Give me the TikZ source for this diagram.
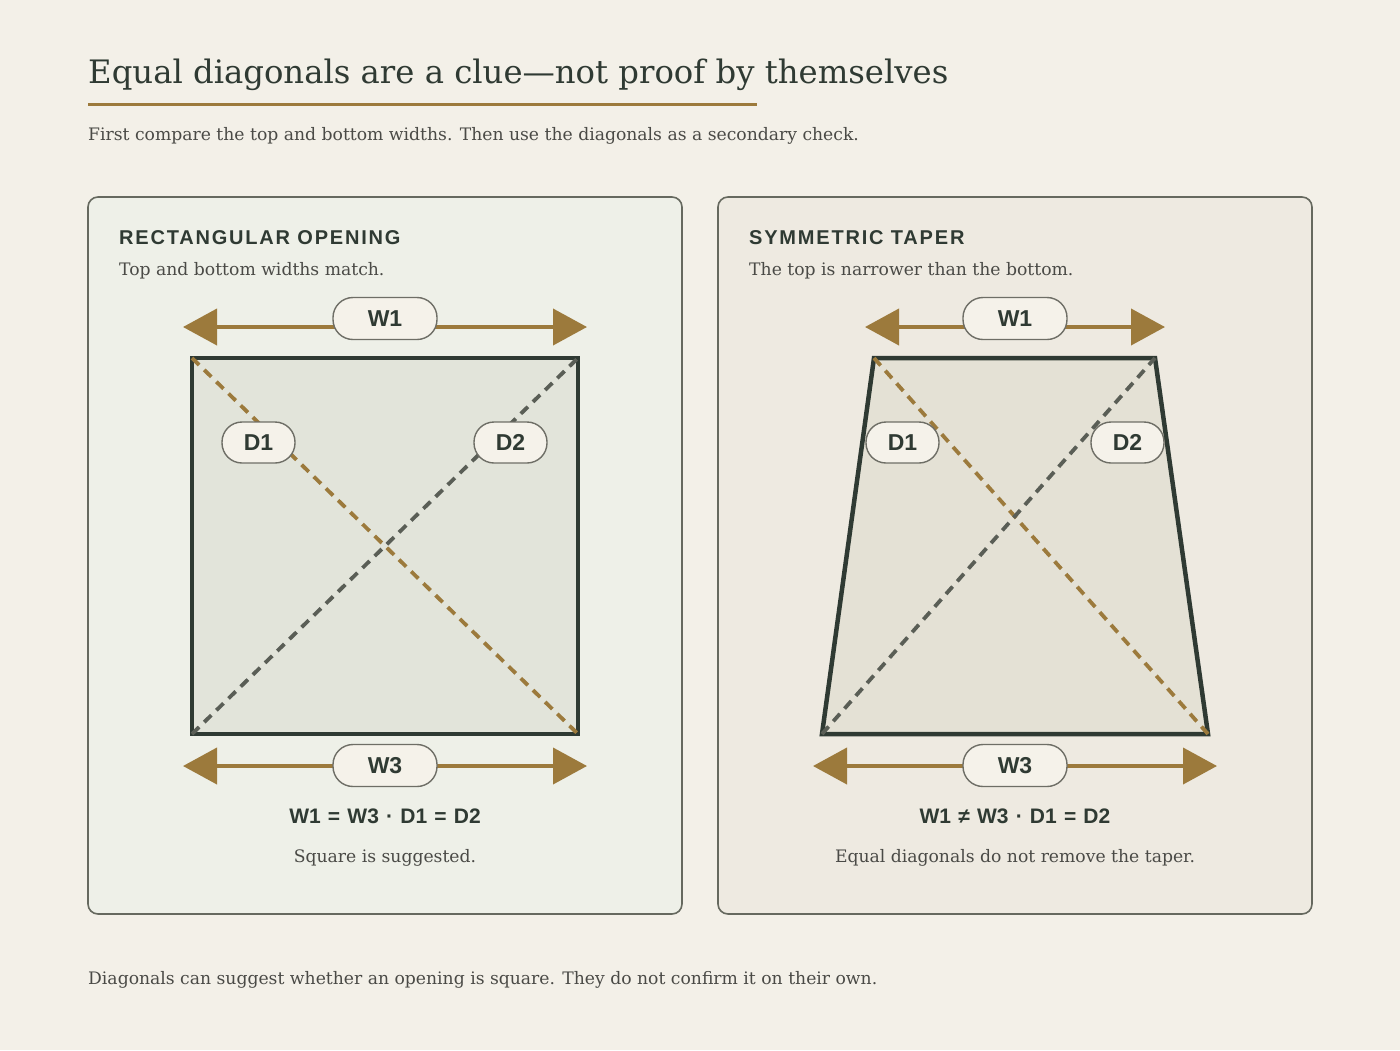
\documentclass[tikz,border=0pt]{standalone}
\usepackage{fontspec}
\setmainfont{DejaVu Serif}
\newfontfamily\headsans{Liberation Sans}
\newfontfamily\headsanssp[LetterSpace=9]{Liberation Sans}
\usetikzlibrary{arrows.meta}
\definecolor{bgc}{HTML}{F3F0E8}
\definecolor{ink}{HTML}{2F3A33}
\definecolor{gold}{HTML}{9C7A3C}
\definecolor{grayd}{HTML}{5A5E56}
\definecolor{panelL}{HTML}{EEF0E8}
\definecolor{panelR}{HTML}{EEEAE1}
\definecolor{shapeL}{HTML}{E2E4DA}
\definecolor{shapeR}{HTML}{E4E1D5}
\definecolor{pillf}{HTML}{F5F2EA}
\definecolor{pillb}{HTML}{6E6E66}
\definecolor{bodyt}{HTML}{4A4A46}
\definecolor{panelb}{HTML}{66695F}
\newcommand\fgap{\hspace{7.2pt}}
\tikzset{
  panel/.style={draw=panelb, line width=1.6pt, rounded corners=10pt},
  shapeline/.style={draw=ink, line width=4.5pt, line join=miter},
  diagA/.style={draw=gold, line width=3.8pt, dash pattern=on 10pt off 7pt},
  diagB/.style={draw=grayd, line width=3.8pt, dash pattern=on 10pt off 7pt},
  dimarrow/.style={draw=gold, line width=4pt, {Triangle[length=34pt,width=36pt]}-{Triangle[length=34pt,width=36pt]}},
  pill/.style={draw=pillb, fill=pillf, line width=1.4pt, rounded corners=20pt, inner sep=0pt, text=ink, font=\headsans\bfseries\fontsize{23}{23}\selectfont},
  wpill/.style={pill, minimum width=104pt, minimum height=42pt},
  dpill/.style={pill, minimum width=73pt, minimum height=41pt},
  heading/.style={anchor=base west, inner sep=0pt, text=ink, font=\headsanssp\bfseries\fontsize{20}{20}\selectfont},
  bodytext/.style={inner sep=0pt, text=bodyt, font=\fontsize{17.2}{20}\selectfont},
  formula/.style={anchor=base, inner sep=0pt, text=ink, font=\headsans\bfseries\fontsize{21}{21}\selectfont},
}
\begin{document}
\begin{tikzpicture}[x=1pt,y=-1pt]
\useasboundingbox (0,0) rectangle (1400,1050);
\fill[bgc] (0,0) rectangle (1400,1050);

% title
\node[anchor=base west, inner sep=0pt, text=ink, font=\fontsize{32.3}{40}\selectfont] (title) at (88,83) {Equal diagonals are a clue—not proof by themselves};
\coordinate (ulA) at (88,104);
\coordinate (ulB) at (757,104);
\draw[gold, line width=3pt] (ulA) -- (ulB);
\node[bodytext, anchor=base west] (sub) at (88,140) {First compare the top and bottom widths. Then use the diagonals as a secondary check.};

% panels
\draw[panel, fill=panelL] (88,197) rectangle (682,914);
\draw[panel, fill=panelR] (718,197) rectangle (1312,914);

% ---------- left panel ----------
\node[heading] (hL) at (119,244) {RECTANGULAR OPENING};
\node[bodytext, anchor=base west] (sL) at (119,275) {Top and bottom widths match.};

\coordinate (LTL) at (192,358);
\coordinate (LTR) at (578,358);
\coordinate (LBR) at (578,734);
\coordinate (LBL) at (192,734);
\fill[shapeL] (LTL) -- (LTR) -- (LBR) -- (LBL) -- cycle;
\draw[shapeline] (LTL) -- (LTR) -- (LBR) -- (LBL) -- cycle;
\draw[diagA] (LTL) -- (LBR);
\draw[diagB] (LBL) -- (LTR);

\coordinate (LW1a) at (183,327);
\coordinate (LW1b) at (587,327);
\draw[dimarrow] (LW1a) -- (LW1b);
\node[wpill] (LW1) at (385,318.5) {W1};

\node[dpill] (LD1) at (258.5,442.5) {D1};
\node[dpill] (LD2) at (510.5,442.5) {D2};

\coordinate (LW3a) at (183,766);
\coordinate (LW3b) at (587,766);
\draw[dimarrow] (LW3a) -- (LW3b);
\node[wpill] (LW3) at (385,765.5) {W3};

\node[formula] (fL) at (385,823) {W1\fgap=\fgap W3\fgap·\fgap D1\fgap=\fgap D2};
\node[bodytext, anchor=base] (cL) at (385,862) {Square is suggested.};

% ---------- right panel ----------
\node[heading] (hR) at (749,244) {SYMMETRIC TAPER};
\node[bodytext, anchor=base west] (sR) at (749,275) {The top is narrower than the bottom.};

\coordinate (RTL) at (874,358);
\coordinate (RTR) at (1155,358);
\coordinate (RBR) at (1208,734);
\coordinate (RBL) at (822,734);
\fill[shapeR] (RTL) -- (RTR) -- (RBR) -- (RBL) -- cycle;
\draw[shapeline] (RTL) -- (RTR) -- (RBR) -- (RBL) -- cycle;
\draw[diagA] (RTL) -- (RBR);
\draw[diagB] (RBL) -- (RTR);

\coordinate (RW1a) at (865,327);
\coordinate (RW1b) at (1165,327);
\draw[dimarrow] (RW1a) -- (RW1b);
\node[wpill] (RW1) at (1015,318.5) {W1};

\node[dpill] (RD1) at (902.5,442.5) {D1};
\node[dpill] (RD2) at (1127.5,442.5) {D2};

\coordinate (RW3a) at (813,766);
\coordinate (RW3b) at (1217,766);
\draw[dimarrow] (RW3a) -- (RW3b);
\node[wpill] (RW3) at (1015,765.5) {W3};

\node[formula] (fR) at (1015,823) {W1\fgap≠\fgap W3\fgap·\fgap D1\fgap=\fgap D2};
\node[bodytext, anchor=base] (cR) at (1015,862) {Equal diagonals do not remove the taper.};

% footer
\node[bodytext, anchor=base west] (foot) at (88,984) {Diagonals can suggest whether an opening is square. They do not confirm it on their own.};
\end{tikzpicture}
\end{document}
